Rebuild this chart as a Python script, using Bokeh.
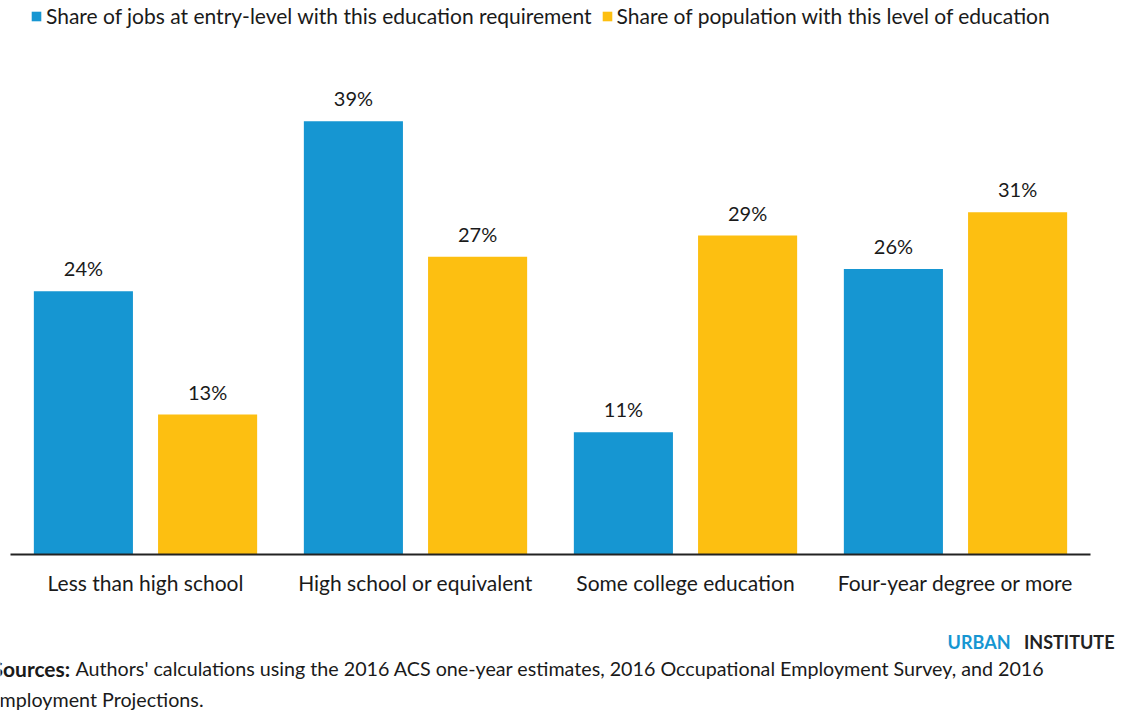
from bokeh.plotting import figure
from bokeh.layouts import column, row
from bokeh.models import ColumnDataSource, FactorRange, Legend, LegendItem, Range1d
from bokeh.transform import dodge
from bokeh.embed import file_html
from bokeh.resources import INLINE
from bokeh.core.properties import value

# ---- data ----
categories = ["Less than high school", "High school or equivalent",
              "Some college education", "Four-year degree or more"]
jobs_share = [23.7, 39.0, 11.0, 25.7]
population_share = [12.6, 26.8, 28.7, 30.8]
series_names = ["Share of jobs at entry-level with this education requirement",
                "Share of population with this level of education"]
colors = ["#1696d2", "#fdbf11"]
source_label = "Sources:"
source_note = ("Authors' calculations using the 2016 ACS one-year estimates, "
               "2016 Occupational Employment Survey, and 2016")
source_note2 = "Employment Projections."
brand = ["URBAN", "INSTITUTE"]

FONT = "Lato"
TXT = "#1a1a1a"

src = ColumnDataSource(dict(
    cat=categories,
    jobs=jobs_share,
    pop=population_share,
    jobs_lbl=[f"{round(v)}%" for v in jobs_share],
    pop_lbl=[f"{round(v)}%" for v in population_share],
))

Y_TOP = 49.86
MAIN_H = 620
FOOT_H = 711 - MAIN_H

p = figure(x_range=FactorRange(*categories), y_range=Range1d(0, Y_TOP),
           width=1122, height=MAIN_H, output_backend="svg", toolbar_location=None,
           y_axis_location=None,
           min_border_left=10, min_border_right=32, min_border_top=0,
           min_border_bottom=MAIN_H - 554)
p.outline_line_color = None
p.xgrid.grid_line_color = None
p.ygrid.grid_line_color = None
p.background_fill_color = "white"
p.border_fill_color = "white"

ax = p.xaxis[0]
ax.major_tick_line_color = None
ax.minor_tick_line_color = None
ax.axis_line_width = 2
ax.axis_line_color = "#222222"
ax.major_label_text_font = FONT
ax.major_label_text_font_size = "21px"
ax.major_label_text_color = TXT
ax.major_label_standoff = 9

off = 0.23
bw = 0.367
r1 = p.vbar(x=dodge("cat", -off, range=p.x_range), top="jobs", width=bw,
            source=src, fill_color=colors[0], line_color=None)
r2 = p.vbar(x=dodge("cat", off, range=p.x_range), top="pop", width=bw,
            source=src, fill_color=colors[1], line_color=None)

for key, lbl, o in (("jobs", "jobs_lbl", -off), ("pop", "pop_lbl", off)):
    p.text(x=dodge("cat", o, range=p.x_range), y=key, text=lbl, source=src,
           text_align="center", text_baseline="alphabetic", y_offset=-23,
           text_font=value(FONT), text_font_size="20px", text_color=TXT)

legend = Legend(items=[LegendItem(label=series_names[0], renderers=[r1]),
                       LegendItem(label=series_names[1], renderers=[r2])],
                orientation="horizontal", location=(20, 526),
                glyph_width=12, glyph_height=12, label_standoff=4, spacing=9,
                padding=0, margin=0, border_line_color=None,
                background_fill_alpha=0, label_height=20,
                label_text_font=FONT, label_text_font_size="21px",
                label_text_color=TXT)
p.add_layout(legend, "center")

# ---- footer (source note and brand) ----
f = figure(width=1122, height=FOOT_H, output_backend="svg", toolbar_location=None,
           x_range=Range1d(0, 1122), y_range=Range1d(FOOT_H, 0),
           x_axis_location=None, y_axis_location=None, min_border=0)
f.outline_line_color = None
f.xgrid.grid_line_color = None
f.ygrid.grid_line_color = None
f.background_fill_color = "white"
f.border_fill_color = "white"

def ftext(x, y, text, align, size, color=TXT, style="normal"):
    f.text(x=[x], y=[y], text=[text], text_align=align, text_baseline="middle",
           text_font=value(FONT), text_font_size=size, text_color=color,
           text_font_style=style)

ftext(1114, 21, brand[1], "right", "18px", "#222222", "bold")
ftext(1010, 21, brand[0], "right", "18px", "#1696d2", "bold")
ftext(-9, 48, source_label, "left", "21px", TXT, "bold")
ftext(75, 48, source_note, "left", "19.7px")
ftext(-12, 79, source_note2, "left", "19.7px")

layout = column(row(p), row(f), spacing=0)
open("out.html", "w").write(file_html(layout, INLINE))
